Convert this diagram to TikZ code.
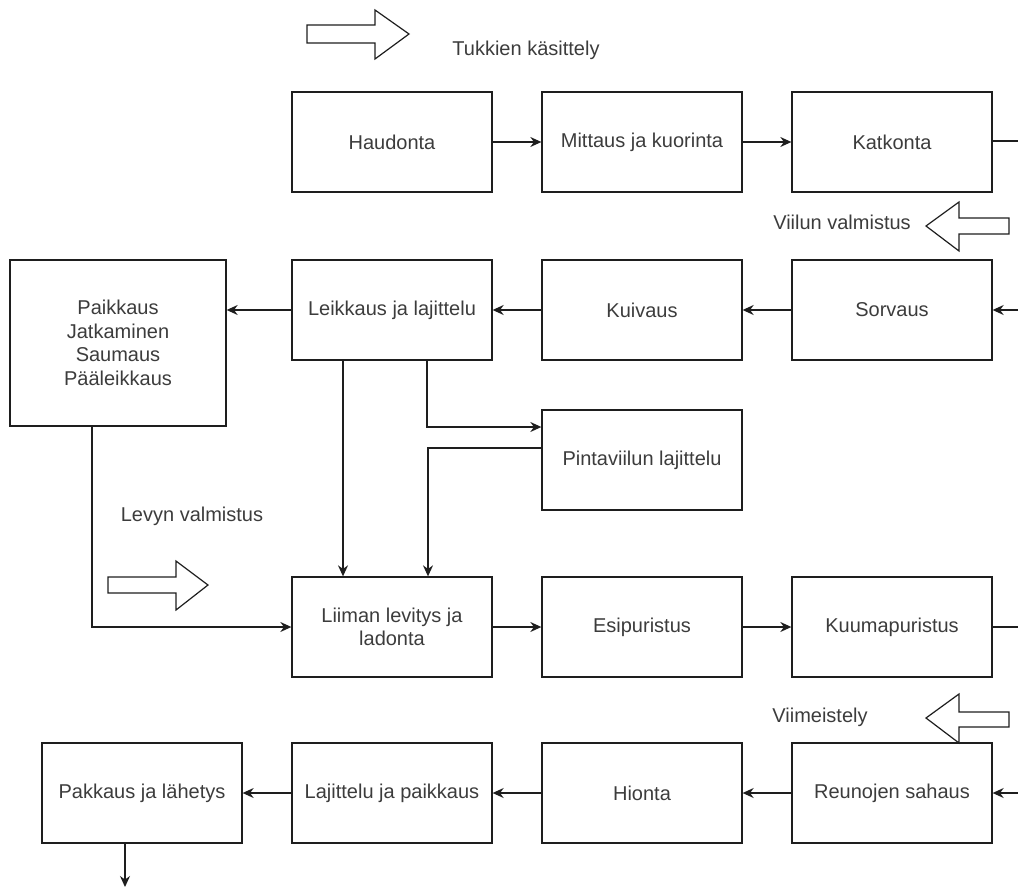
\documentclass[tikz,border=0pt]{standalone}
\usepackage{fontspec}
\setmainfont{Liberation Sans}
\usetikzlibrary{arrows.meta}
\definecolor{txt}{RGB}{60,60,60}
\definecolor{ln}{RGB}{30,30,30}
\tikzset{
  box/.style={draw=ln, line width=1.3pt, minimum width=200pt, minimum height=100pt, inner sep=0pt, align=center, text=txt, font=\fontsize{20}{23.5}\selectfont},
  arr/.style={draw=ln, line width=1.3pt, -{Stealth[length=11pt,width=10pt]}},
  ln/.style={draw=ln, line width=1.3pt},
  blk/.style={draw=ln, line width=1.2pt, fill=white},
  lbl/.style={text=txt, font=\fontsize{20}{23.5}\selectfont, inner sep=0pt}
}
\begin{document}
\begin{tikzpicture}[x=1pt,y=-1pt]
\useasboundingbox (0,0) rectangle (1018,888);
% row 1
\node[box] (haud) at (392,142) {Haudonta};
\node[box] (mitt) at (642,142) {Mittaus ja kuorinta};
\node[box] (katk) at (892,142) {Katkonta};
% row 2
\node[box, minimum width=216pt, minimum height=166pt] (paik) at (118,343) {Paikkaus\\Jatkaminen\\Saumaus\\Pääleikkaus};
\node[box] (leik) at (392,310) {Leikkaus ja lajittelu};
\node[box] (kuiv) at (642,310) {Kuivaus};
\node[box] (sorv) at (892,310) {Sorvaus};
\node[box] (pint) at (642,460) {Pintaviilun lajittelu};
% row 3
\node[box] (liim) at (392,627) {Liiman levitys ja\\ladonta};
\node[box] (esip) at (642,627) {Esipuristus};
\node[box] (kuum) at (892,627) {Kuumapuristus};
% row 4
\node[box] (pakk) at (142,793) {Pakkaus ja lähetys};
\node[box] (lajp) at (392,793) {Lajittelu ja paikkaus};
\node[box] (hion) at (642,793) {Hionta};
\node[box] (reun) at (892,793) {Reunojen sahaus};
% labels
\node[lbl] (t1) at (526,50) {Tukkien käsittely};
\node[lbl] (t2) at (842,222) {Viilun valmistus};
\node[lbl] (t3) at (192,516) {Levyn valmistus};
\node[lbl] (t4) at (820,717) {Viimeistely};
% block arrows
\draw[blk] (307,25) -- (375,25) -- (375,10) -- (409,34) -- (375,59) -- (375,43) -- (307,43) -- cycle;
\draw[blk] (1009,218) -- (959,218) -- (959,202) -- (926,226) -- (959,251) -- (959,234) -- (1009,234) -- cycle;
\draw[blk] (108,577) -- (176,577) -- (176,561) -- (208,585) -- (176,610) -- (176,593) -- (108,593) -- cycle;
\draw[blk] (1009,712) -- (959,712) -- (959,694) -- (926,718) -- (959,743) -- (959,727) -- (1009,727) -- cycle;
% coordinates at edges
\coordinate (e1) at (1018,141);
\coordinate (e2) at (1018,310);
\coordinate (e3) at (1018,627);
\coordinate (e4) at (1018,793);
\coordinate (e5) at (125,887);
% connectors
\draw[arr] (haud) -- (mitt);
\draw[arr] (mitt) -- (katk);
\draw[ln] (katk.east |- e1) -- (e1);
\draw[arr] (e2) -- (sorv);
\draw[arr] (sorv) -- (kuiv);
\draw[arr] (kuiv) -- (leik);
\draw[arr] (leik) -- (paik.east |- leik);
\draw[arr] ([xshift=35pt]leik.south) |- ([yshift=33pt]pint.west);
\draw[arr] ([xshift=-49pt]leik.south) -- ([xshift=-49pt]liim.north);
\draw[arr] ([yshift=12pt]pint.west) -| ([xshift=36pt]liim.north);
\draw[arr] ([xshift=-26pt]paik.south) |- (liim.west);
\draw[arr] (liim) -- (esip);
\draw[arr] (esip) -- (kuum);
\draw[ln] (kuum) -- (e3);
\draw[arr] (e4) -- (reun);
\draw[arr] (reun) -- (hion);
\draw[arr] (hion) -- (lajp);
\draw[arr] (lajp) -- (pakk);
\draw[arr] ([xshift=-17pt]pakk.south) -- (e5);
\end{tikzpicture}
\end{document}
